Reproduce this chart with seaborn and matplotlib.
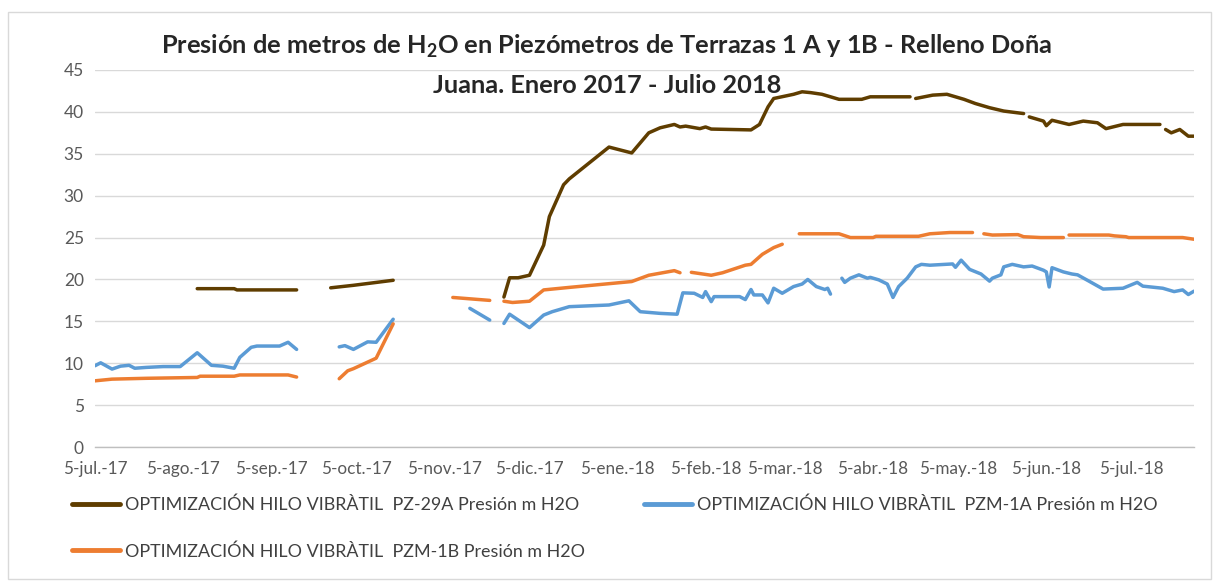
import numpy as np
import pandas as pd
import matplotlib
matplotlib.use("Agg")
import matplotlib.pyplot as plt
import matplotlib.dates as mdates
from matplotlib.lines import Line2D
from matplotlib.patches import Rectangle
import seaborn as sns

nan = np.nan

# PZ-29A (cafe)
pz29a_fechas = ["2017-08-10", "2017-08-23", "2017-08-24", "2017-09-14", "2017-09-20",
                "2017-09-26", "2017-10-04", "2017-10-11", "2017-10-18", "2017-11-01",
                "2017-11-26", "2017-11-28", "2017-12-01", "2017-12-05", "2017-12-10",
                "2017-12-12", "2017-12-17", "2017-12-19", "2018-01-02", "2018-01-10",
                "2018-01-16", "2018-01-20", "2018-01-25", "2018-01-27", "2018-01-29",
                "2018-02-03", "2018-02-05", "2018-02-07", "2018-02-21", "2018-02-24",
                "2018-02-27", "2018-03-01", "2018-03-08", "2018-03-11", "2018-03-14",
                "2018-03-18", "2018-03-24", "2018-04-01", "2018-04-04", "2018-04-11",
                "2018-04-18", "2018-04-19", "2018-04-20", "2018-04-26", "2018-05-01",
                "2018-05-07", "2018-05-11", "2018-05-16", "2018-05-21", "2018-05-28",
                "2018-05-29", "2018-05-30", "2018-06-04", "2018-06-05", "2018-06-07",
                "2018-06-13", "2018-06-18", "2018-06-23", "2018-06-26", "2018-07-02",
                "2018-07-15", "2018-07-16", "2018-07-17", "2018-07-19", "2018-07-22",
                "2018-07-25", "2018-07-27"]
pz29a_valores = [18.9, 18.9, 18.75, 18.75, nan,
                 19.0, 19.3, 19.6, 19.9, nan,
                 17.9, 20.2, 20.2, 20.5, 24.1,
                 27.5, 31.3, 32.0, 35.8, 35.1,
                 37.5, 38.1, 38.5, 38.2, 38.3,
                 38.0, 38.2, 37.95, 37.85, 38.5,
                 40.6, 41.6, 42.1, 42.4, 42.3,
                 42.1, 41.5, 41.5, 41.8, 41.8,
                 41.8, nan, 41.6, 42.0, 42.1,
                 41.5, 41.0, 40.5, 40.1, 39.8,
                 nan, 39.4, 38.9, 38.35, 39.0,
                 38.5, 38.9, 38.7, 38.0, 38.5,
                 38.5, nan, 37.9, 37.5, 37.9,
                 37.1, 37.1]

# PZM-1A (azul)
pzm1a_fechas = ["2017-07-05", "2017-07-07", "2017-07-11", "2017-07-14", "2017-07-17",
                "2017-07-19", "2017-07-23", "2017-07-29", "2017-08-04", "2017-08-10",
                "2017-08-15", "2017-08-19", "2017-08-23", "2017-08-25", "2017-08-29",
                "2017-08-31", "2017-09-08", "2017-09-11", "2017-09-14", "2017-09-20",
                "2017-09-29", "2017-10-01", "2017-10-04", "2017-10-09", "2017-10-12",
                "2017-10-18", "2017-11-01", "2017-11-14", "2017-11-21", "2017-11-23",
                "2017-11-26", "2017-11-28", "2017-12-05", "2017-12-10", "2017-12-13",
                "2017-12-19", "2018-01-02", "2018-01-09", "2018-01-13", "2018-01-20",
                "2018-01-26", "2018-01-28", "2018-02-01", "2018-02-04", "2018-02-05",
                "2018-02-07", "2018-02-08", "2018-02-17", "2018-02-19", "2018-02-21",
                "2018-02-22", "2018-02-25", "2018-02-27", "2018-03-01", "2018-03-04",
                "2018-03-08", "2018-03-11", "2018-03-13", "2018-03-16", "2018-03-19",
                "2018-03-20", "2018-03-21", "2018-03-23",
                "2018-03-25", "2018-03-26", "2018-03-28", "2018-03-31", "2018-04-03",
                "2018-04-04", "2018-04-07", "2018-04-10", "2018-04-12", "2018-04-14",
                "2018-04-17", "2018-04-20", "2018-04-22", "2018-04-25", "2018-05-03",
                "2018-05-04", "2018-05-06", "2018-05-09", "2018-05-13", "2018-05-16",
                "2018-05-17", "2018-05-20", "2018-05-21", "2018-05-24", "2018-05-28",
                "2018-05-31", "2018-06-04", "2018-06-05", "2018-06-06", "2018-06-07",
                "2018-06-11", "2018-06-14", "2018-06-16", "2018-06-20", "2018-06-25",
                "2018-07-02", "2018-07-07", "2018-07-09", "2018-07-16", "2018-07-20",
                "2018-07-23", "2018-07-25", "2018-07-27"]
pzm1a_valores = [9.7, 10.05, 9.3, 9.65, 9.75,
                 9.4, 9.5, 9.6, 9.6, 11.25,
                 9.75, 9.65, 9.4, 10.7, 11.9,
                 12.05, 12.05, 12.5, 11.65, nan,
                 11.95, 12.1, 11.65, 12.55, 12.5,
                 15.25, nan, 16.55, 15.15, nan,
                 14.75, 15.85, 14.25, 15.75, 16.15,
                 16.75, 16.95, 17.45, 16.15, 15.95,
                 15.85, 18.4, 18.35, 17.85, 18.55,
                 17.35, 17.95, 17.95, 17.6, 18.8,
                 18.15, 18.15, 17.2, 18.95, 18.35,
                 19.15, 19.45, 20.0, 19.15, 18.8,
                 18.95, 18.25, nan,
                 20.15, 19.65, 20.15, 20.55, 20.15,
                 20.25, 19.95, 19.45, 17.85, 19.15,
                 20.15, 21.5, 21.8, 21.7, 21.85,
                 21.45, 22.3, 21.2, 20.65, 19.8,
                 20.15, 20.55, 21.5, 21.8, 21.5,
                 21.6, 21.1, 20.9, 19.1, 21.4,
                 20.9, 20.65, 20.55, 19.8, 18.85,
                 18.95, 19.65, 19.2, 18.95, 18.55,
                 18.75, 18.2, 18.6]

# PZM-1B (naranja)
pzm1b_fechas = ["2017-07-05", "2017-07-11", "2017-07-23", "2017-08-10", "2017-08-11",
                "2017-08-23", "2017-08-25", "2017-09-11", "2017-09-14", "2017-09-20",
                "2017-09-29", "2017-10-02", "2017-10-04", "2017-10-12", "2017-10-18",
                "2017-11-01", "2017-11-08", "2017-11-21", "2017-11-23",
                "2017-11-26", "2017-11-29", "2017-12-05", "2017-12-10", "2017-12-19",
                "2018-01-10", "2018-01-16", "2018-01-25", "2018-01-27", "2018-01-29",
                "2018-01-31", "2018-02-07", "2018-02-11", "2018-02-19", "2018-02-21",
                "2018-02-25", "2018-03-01", "2018-03-04", "2018-03-07",
                "2018-03-10", "2018-03-24", "2018-03-28", "2018-04-05", "2018-04-06",
                "2018-04-21", "2018-04-25", "2018-05-02", "2018-05-10", "2018-05-12",
                "2018-05-14", "2018-05-17", "2018-05-26", "2018-05-28", "2018-06-03",
                "2018-06-11", "2018-06-12",
                "2018-06-13", "2018-06-27", "2018-06-29", "2018-07-03", "2018-07-04",
                "2018-07-23", "2018-07-27"]
pzm1b_valores = [7.9, 8.1, 8.2, 8.3, 8.45,
                 8.45, 8.6, 8.6, 8.35, nan,
                 8.15, 9.1, 9.35, 10.6, 14.7,
                 nan, 17.85, 17.5, nan,
                 17.4, 17.25, 17.4, 18.75, 19.05,
                 19.75, 20.5, 21.05, 20.8, nan,
                 20.85, 20.5, 20.8, 21.7, 21.8,
                 23.0, 23.8, 24.2, nan,
                 25.45, 25.45, 25.0, 25.0, 25.15,
                 25.15, 25.45, 25.6, 25.6, nan,
                 25.45, 25.3, 25.35, 25.1, 25.0,
                 25.0, nan,
                 25.3, 25.3, 25.2, 25.1, 25.0,
                 25.0, 24.8]

series = [
    ("OPTIMIZACIÓN HILO VIBRÀTIL  PZ-29A Presión m H2O", pz29a_fechas, pz29a_valores),
    ("OPTIMIZACIÓN HILO VIBRÀTIL  PZM-1A Presión m H2O", pzm1a_fechas, pzm1a_valores),
    ("OPTIMIZACIÓN HILO VIBRÀTIL  PZM-1B Presión m H2O", pzm1b_fechas, pzm1b_valores),
]
colores = ["#5F3D00", "#5B9BD5", "#ED7D31"]
meses = ["ene.", "feb.", "mar.", "abr.", "may.", "jun.",
         "jul.", "ago.", "sep.", "oct.", "nov.", "dic."]

frames = []
for nombre, fechas, valores in series:
    d = pd.DataFrame({"fecha": pd.to_datetime(fechas), "presion": valores, "serie": nombre})
    d["tramo"] = d["presion"].isna().cumsum()  # huecos en la serie = tramos separados
    frames.append(d.dropna())
df = pd.concat(frames, ignore_index=True)

sns.set_theme(style="white")
plt.rcParams["font.family"] = ["Lato", "DejaVu Sans"]
plt.rcParams["mathtext.fontset"] = "custom"
plt.rcParams["mathtext.rm"] = "Lato"
plt.rcParams["mathtext.bf"] = "Lato:bold"

fig = plt.figure(figsize=(12.14, 5.81), dpi=100)
ax = fig.add_axes([95 / 1214, 1 - 447 / 581, (1194 - 95) / 1214, (447 - 70) / 581])

palette = {nombre: c for (nombre, _, _), c in zip(series, colores)}
sns.lineplot(data=df, x="fecha", y="presion", hue="serie", units="tramo",
             estimator=None, palette=palette, linewidth=2.5, legend=False, ax=ax,
             solid_capstyle="round", solid_joinstyle="round")

ax.set_ylim(0, 45)
ax.set_yticks(range(0, 46, 5))
ax.set_xlim(pd.Timestamp("2017-07-05"), pd.Timestamp("2018-07-27"))
ax.xaxis.set_major_locator(mdates.MonthLocator(bymonthday=5))
ax.xaxis.set_major_formatter(plt.FuncFormatter(
    lambda x, pos: "{}-{}-{}".format(mdates.num2date(x).day,
                                     meses[mdates.num2date(x).month - 1],
                                     mdates.num2date(x).strftime("%y"))))
ax.set_xlabel("")
ax.set_ylabel("")
ax.grid(axis="y", color="#D9D9D9", linewidth=1)
ax.grid(axis="x", visible=False)
ax.set_axisbelow(True)
for s in ["top", "right", "left"]:
    ax.spines[s].set_visible(False)
ax.spines["bottom"].set_color("#BFBFBF")
ax.spines["bottom"].set_linewidth(1)
ax.tick_params(axis="x", direction="out", length=5, color="#BFBFBF", width=1,
               labelsize=12.3, labelcolor="#595959", pad=5)
ax.tick_params(axis="y", length=0, labelsize=12.5, labelcolor="#595959", pad=8)

fig.text(0.5, 1 - 33 / 581,
         "Presión de metros de H$_\\mathbf{2}$O en Piezómetros de Terrazas 1 A y 1B - Relleno Doña\n"
         "Juana. Enero 2017 - Julio 2018",
         ha="center", va="top", fontsize=18.3, fontweight="bold", color="#262626",
         linespacing=1.72)

handles = [Line2D([], [], color=colores[i], linewidth=3.5) for i in (0, 2, 1)]
labels = [series[i][0] for i in (0, 2, 1)]
fig.legend(handles, labels, ncol=2, loc="upper left",
           bbox_to_anchor=(72 / 1214, 1 - 497 / 581), frameon=False,
           fontsize=12.9, handlelength=2.7, handletextpad=0.25,
           columnspacing=3.3, labelspacing=1.65, labelcolor="#404040",
           borderpad=0, borderaxespad=0)

fig.patches.append(Rectangle((8 / 1214, 2 / 581), 1203 / 1214, 567 / 581,
                             transform=fig.transFigure, fill=False,
                             edgecolor="#D9D9D9", linewidth=1))

fig.savefig("out.png", dpi=100)
